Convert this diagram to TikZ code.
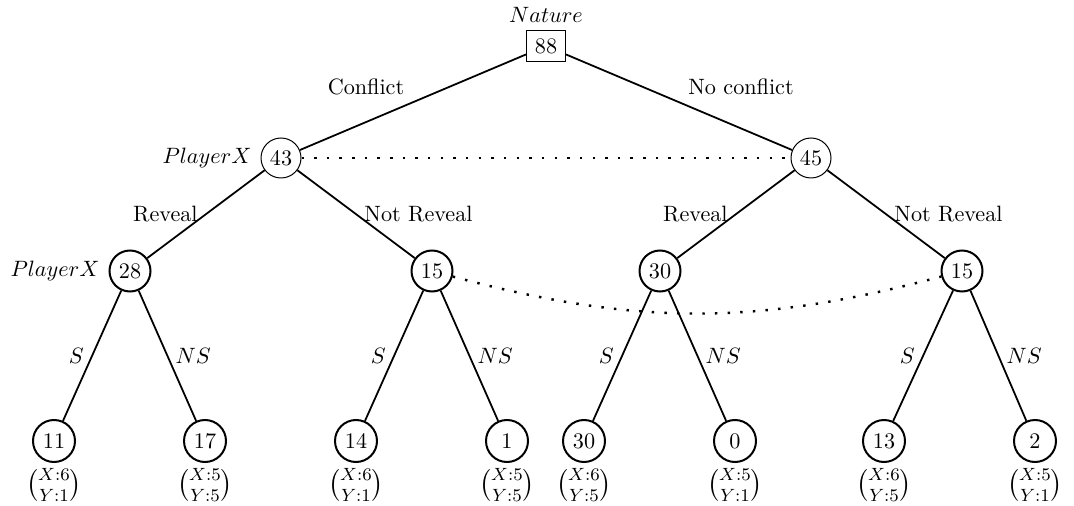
\documentclass[tikz,border=0pt]{standalone}
\usepackage{amsmath}
\begin{document}
\begin{tikzpicture}[x=0.4505pt,y=-0.4505pt,
  thincirc/.style={circle,draw,line width=0.45pt,minimum size=40*0.4505pt,inner sep=0pt},
  thickcirc/.style={circle,draw,line width=0.9pt,minimum size=41*0.4505pt,inner sep=0pt},
  leafcirc/.style={circle,draw,line width=0.9pt,minimum size=42*0.4505pt,inner sep=0pt},
  naturebox/.style={rectangle,draw,line width=0.45pt,minimum width=39*0.4505pt,minimum height=31*0.4505pt,inner sep=0pt},
  edge/.style={line width=0.8pt},
  info/.style={line width=1.1pt,dash pattern=on 1.1pt off 4.6pt},
  lbl/.style={inner sep=0pt},
  payoff/.style={inner sep=0pt,font=\large}]
\useasboundingbox (0,0) rectangle (1074,506);
\node[naturebox] (r) at (546,46) {88};
\node[lbl] (natl) at (546,15) {$Nature$};
\node[thincirc] (a) at (281,158) {43};
\node[thincirc] (b) at (811,158) {45};
\node[lbl] (pxa) at (207,158) {$PlayerX$};
\node[thickcirc] (a1) at (130,271) {28};
\node[thickcirc] (a2) at (432,271) {15};
\node[thickcirc] (b1) at (660,271) {30};
\node[thickcirc] (b2) at (962,271) {15};
\node[lbl] (pxb) at (55,271) {$PlayerX$};
\foreach \n/\x/\v/\p in {l1/54/11/{\binom{X:6}{Y:1}}, l2/205/17/{\binom{X:5}{Y:5}},
  l3/356/14/{\binom{X:6}{Y:1}}, l4/507/1/{\binom{X:5}{Y:5}},
  l5/584/30/{\binom{X:6}{Y:5}}, l6/735/0/{\binom{X:5}{Y:1}},
  l7/884/13/{\binom{X:6}{Y:5}}, l8/1035/2/{\binom{X:5}{Y:1}}}{
  \node[leafcirc] (\n) at (\x,441) {\v};
  \node[payoff] (\n p) at (\x,485) {$\p$};
}
\draw[edge] (r) -- (a);
\draw[edge] (r) -- (b);
\draw[edge] (a) -- node[midway,left] {Reveal} (a1);
\draw[edge] (a) -- node[midway,right] {Not Reveal} (a2);
\draw[edge] (b) -- node[midway,left] {Reveal} (b1);
\draw[edge] (b) -- node[midway,right] {Not Reveal} (b2);
\draw[edge] (a1) -- node[midway,left] {$S$} (l1);
\draw[edge] (a1) -- node[midway,right] {$NS$} (l2);
\draw[edge] (a2) -- node[midway,left] {$S$} (l3);
\draw[edge] (a2) -- node[midway,right] {$NS$} (l4);
\draw[edge] (b1) -- node[midway,left] {$S$} (l5);
\draw[edge] (b1) -- node[midway,right] {$NS$} (l6);
\draw[edge] (b2) -- node[midway,left] {$S$} (l7);
\draw[edge] (b2) -- node[midway,right] {$NS$} (l8);
\draw[info] (a) -- (b);
\draw[info] (a2) to[bend right=15] (b2);
\node[lbl] (cf) at (366,87) {Conflict};
\node[lbl] (ncf) at (741,87) {No conflict};
\end{tikzpicture}
\end{document}
